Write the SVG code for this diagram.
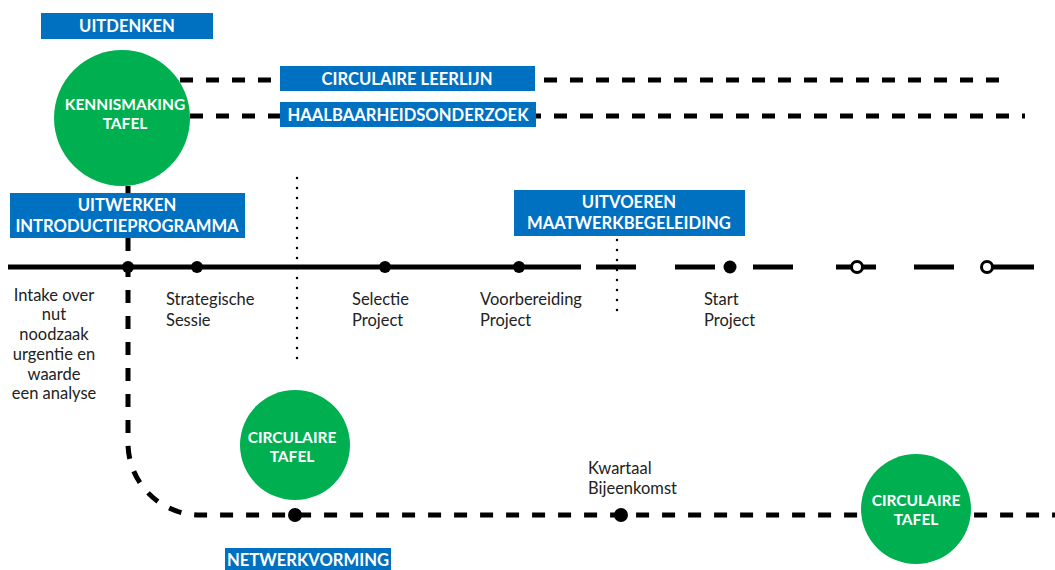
<svg xmlns="http://www.w3.org/2000/svg" width="1055" height="570" viewBox="0 0 1055 570">
<style>
.box{fill:#0070c0}
.bt{fill:#fff;font-family:Lato,"Liberation Sans",sans-serif;font-weight:bold;font-size:16.6px;text-anchor:middle}
.ct{fill:#fff;font-family:Lato,"Liberation Sans",sans-serif;font-weight:bold;font-size:15.5px;text-anchor:middle}
.green{fill:#00b050}
.lbl{fill:#222;font-family:Lato,"Liberation Sans",sans-serif;font-size:16.5px}
.dash{fill:none;stroke:#000;stroke-width:5;stroke-dasharray:13 13}
.dot{fill:none;stroke:#000;stroke-width:2.5;stroke-linecap:round;stroke-dasharray:0 10}
.solid{fill:none;stroke:#000;stroke-width:5}
.pt{fill:#000}
.open{fill:#fff;stroke:#000;stroke-width:3}
</style>
<rect width="1055" height="570" fill="#fff"/>
<g id="connectors">
  <line class="dash" x1="180" y1="80" x2="1012" y2="80"/>
  <line class="dash" x1="190" y1="116" x2="1025" y2="116"/>
  <path class="dash" d="M128,186 V443 A72,72 0 0 0 200,515 H1055"/>
  <line class="dot" x1="297" y1="178" x2="297" y2="368"/>
  <line class="dot" x1="617" y1="240" x2="617" y2="320"/>
  <line class="solid" x1="8" y1="267" x2="581" y2="267"/>
  <line class="solid" x1="596" y1="267" x2="636" y2="267"/>
  <line class="solid" x1="675" y1="267" x2="715" y2="267"/>
  <line class="solid" x1="753" y1="267" x2="793" y2="267"/>
  <line class="solid" x1="836" y1="267" x2="876" y2="267"/>
  <line class="solid" x1="914" y1="267" x2="954" y2="267"/>
  <line class="solid" x1="987" y1="267" x2="1034" y2="267"/>
</g>
<g id="timeline-points">
  <circle class="pt" cx="128" cy="267" r="6"/>
  <circle class="pt" cx="197" cy="267" r="6"/>
  <circle class="pt" cx="385" cy="267" r="6"/>
  <circle class="pt" cx="519" cy="267" r="6"/>
  <circle class="pt" cx="730" cy="267" r="6.5"/>
  <circle class="open" cx="857" cy="267" r="5.5"/>
  <circle class="open" cx="987" cy="267" r="5.5"/>
  <circle class="pt" cx="295" cy="515" r="7"/>
  <circle class="pt" cx="621" cy="515" r="7"/>
</g>
<g id="uitdenken">
  <rect class="box" x="41" y="13" width="172" height="26"/>
  <text class="bt" x="127" y="32">UITDENKEN</text>
</g>
<g id="kennismaking">
  <circle class="green" cx="122" cy="118" r="68"/>
  <text class="ct" x="125" y="110">KENNISMAKING</text>
  <text class="ct" x="125" y="129">TAFEL</text>
</g>
<g id="leerlijn">
  <rect class="box" x="280" y="66" width="255" height="25"/>
  <text class="bt" x="407" y="84.5">CIRCULAIRE LEERLIJN</text>
</g>
<g id="haalbaarheid">
  <rect class="box" x="280" y="102" width="256" height="25"/>
  <text class="bt" x="408" y="120.5">HAALBAARHEIDSONDERZOEK</text>
</g>
<g id="uitwerken">
  <rect class="box" x="10" y="193" width="235" height="45"/>
  <text class="bt" x="127" y="211">UITWERKEN</text>
  <text class="bt" x="127" y="232">INTRODUCTIEPROGRAMMA</text>
</g>
<g id="uitvoeren">
  <rect class="box" x="514" y="190" width="231" height="46"/>
  <text class="bt" x="629" y="208">UITVOEREN</text>
  <text class="bt" x="629" y="229">MAATWERKBEGELEIDING</text>
</g>
<g id="intake">
  <text class="lbl" text-anchor="middle" x="54" y="301">Intake over</text>
  <text class="lbl" text-anchor="middle" x="54" y="320">nut</text>
  <text class="lbl" text-anchor="middle" x="54" y="340">noodzaak</text>
  <text class="lbl" text-anchor="middle" x="54" y="360">urgentie en</text>
  <text class="lbl" text-anchor="middle" x="54" y="380">waarde</text>
  <text class="lbl" text-anchor="middle" x="54" y="399">een analyse</text>
</g>
<g id="strategische">
  <text class="lbl" x="166" y="305">Strategische</text>
  <text class="lbl" x="166" y="326">Sessie</text>
</g>
<g id="selectie">
  <text class="lbl" x="352" y="305">Selectie</text>
  <text class="lbl" x="352" y="326">Project</text>
</g>
<g id="voorbereiding">
  <text class="lbl" x="480" y="305">Voorbereiding</text>
  <text class="lbl" x="480" y="326">Project</text>
</g>
<g id="start">
  <text class="lbl" x="704" y="305">Start</text>
  <text class="lbl" x="704" y="326">Project</text>
</g>
<g id="circulaire-tafel-1">
  <circle class="green" cx="295" cy="445" r="55"/>
  <text class="ct" x="292" y="443">CIRCULAIRE</text>
  <text class="ct" x="292" y="462">TAFEL</text>
</g>
<g id="kwartaal">
  <text class="lbl" x="588" y="474">Kwartaal</text>
  <text class="lbl" x="588" y="494">Bijeenkomst</text>
</g>
<g id="circulaire-tafel-2">
  <circle class="green" cx="916" cy="509" r="55"/>
  <text class="ct" x="916" y="506">CIRCULAIRE</text>
  <text class="ct" x="916" y="525">TAFEL</text>
</g>
<g id="netwerkvorming">
  <rect class="box" x="225" y="548" width="166" height="22"/>
  <text class="bt" x="308" y="566">NETWERKVORMING</text>
</g>
</svg>
